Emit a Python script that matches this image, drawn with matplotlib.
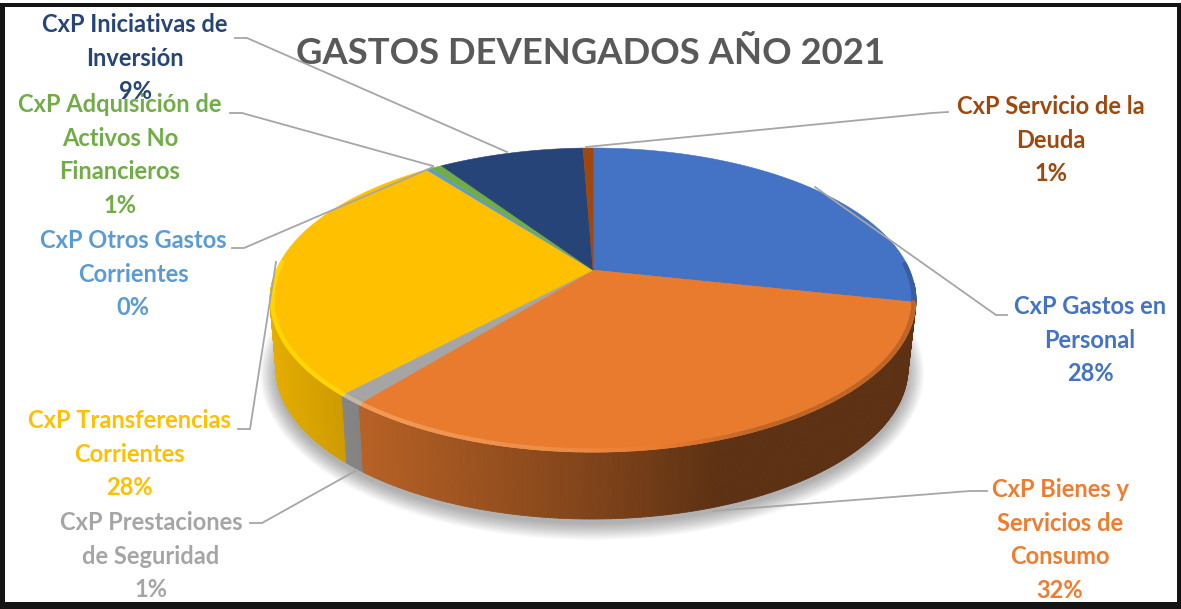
import numpy as np
import matplotlib
matplotlib.use("Agg")
import matplotlib.pyplot as plt
from matplotlib.collections import PolyCollection, LineCollection
from matplotlib.colors import to_rgb
from matplotlib.patches import Ellipse, Polygon, Rectangle

plt.rcParams["font.family"] = ["Lato", "DejaVu Sans"]

# clockwise from 12 o'clock
categories = ["CxP Gastos en\nPersonal", "CxP Bienes y\nServicios de\nConsumo",
              "CxP Prestaciones\nde Seguridad", "CxP Transferencias\nCorrientes",
              "CxP Otros Gastos\nCorrientes", "CxP Adquisición de\nActivos No\nFinancieros",
              "CxP Iniciativas de\nInversión", "CxP Servicio de la\nDeuda"]
percent_labels = ["28%", "32%", "1%", "28%", "0%", "1%", "9%", "1%"]
values = [28.4, 32.4, 1.1, 27.7, 0.3, 0.7, 8.8, 0.6]
slice_colors = ["#4472C4", "#E97B2F", "#A5A5A5", "#FFC000", "#5B9BD5", "#70AD47", "#264478", "#9E480E"]
text_colors = ["#4472C4", "#ED7D31", "#A5A5A5", "#FFC000", "#5B9BD5", "#70AD47", "#264478", "#9E480E"]
label_pos = [(1090, 340), (1060, 540), (151, 556), (129, 454), (133, 274), (120, 155), (135, 58), (1051, 140)]
leaders = [[(1007, 315), (996, 315), (815, 187)],
           [(987, 491), (970, 491), (713, 511)],
           [(250, 523), (262, 523), (357, 470)],
           [(238, 429), (250, 429), (276, 262)],
           [(232, 248), (244, 248), (433, 167)],
           [(230, 113), (242, 113), (433, 166)],
           [(235, 38), (247, 38), (507, 152)],
           [(948, 112), (932, 113), (586, 147)]]
title = "GASTOS DEVENGADOS AÑO 2021"

W, H = 1181, 609
CX, CY, RX, RY = 593, 300, 323, 152
BX, BY, BRX, BRY = 592, 368, 316, 151
PERSP = 0.197


def project(theta, r=1.0, cx=CX, cy=CY, rx=RX, ry=RY):
    u, v = r * np.sin(theta), r * np.cos(theta)
    w = 1 + PERSP * v
    return cx + rx * u * np.sqrt(1 - PERSP**2) / w, cy - ry * (v + PERSP) / w


def shade(x):
    return np.interp(x, [270, 350, 640, 720, 920], [0.9, 0.8, 0.5, 0.4, 0.4])


fig = plt.figure(figsize=(W / 100, H / 100), dpi=100)
ax = fig.add_axes([0, 0, 1, 1])
ax.set_xlim(0, W)
ax.set_ylim(H, 0)
ax.axis("off")

# soft shadow
for grow in np.linspace(16, 0, 14):
    ax.add_patch(Ellipse((BX, BY + 5), 2 * (BRX + grow), 2 * (BRY + grow), fc="#000000", ec="none", alpha=0.022, zorder=1))

edges = np.cumsum([0] + values) / sum(values) * 2 * np.pi

# sides
for start, end, col in zip(edges[:-1], edges[1:], slice_colors):
    th = np.linspace(start, end, max(3, int((end - start) * 90)))
    xt, yt = project(th)
    xb, yb = project(th, cx=BX, cy=BY, rx=BRX, ry=BRY)
    quads, cols = [], []
    for i in range(len(th) - 1):
        if np.cos(th[i]) > -0.08:
            continue
        quads.append([(xt[i], yt[i]), (xt[i + 1], yt[i + 1]), (xb[i + 1], yb[i + 1]), (xb[i], yb[i])])
        cols.append(np.array(to_rgb(col)) * shade(xt[i]))
    ax.add_collection(PolyCollection(quads, facecolors=cols, edgecolors=cols, linewidths=0.6, zorder=2))

# top faces
for start, end, col in zip(edges[:-1], edges[1:], slice_colors):
    th = np.linspace(start, end, max(3, int((end - start) * 90)))
    xt, yt = project(th)
    ax0, ay0 = project(0.0, r=0.0)
    pts = np.vstack([[ax0, ay0], np.column_stack([xt, yt])])
    ax.add_patch(Polygon(pts, closed=True, fc=col, ec=col, lw=0.4, zorder=3))

    # bevel along the front rim
    xr, yr = project(th, r=0.993)
    segs, seg_cols = [], []
    base = np.array(to_rgb(col))
    for i in range(len(th) - 1):
        if np.cos(th[i]) > 0.05:
            continue
        x = xr[i]
        if x < 660:
            amt = np.interp(x, [270, 420, 560, 660], [0.4, 0.3, 0.18, 0.0])
            c = base + (np.array([1, 0.85, 0.65]) - base) * amt
            if col == "#FFC000":
                c = np.array(to_rgb("#FFD600"))
        else:
            c = base * np.interp(x, [660, 760], [1.0, 0.82])
        segs.append([(xr[i], yr[i]), (xr[i + 1], yr[i + 1])])
        seg_cols.append(c)
    if segs:
        ax.add_collection(LineCollection(segs, colors=seg_cols, linewidths=3, zorder=4, capstyle="round"))

# leader lines
for pts in leaders:
    xs, ys = zip(*pts)
    ax.plot(xs, ys, color="#A6A6A6", lw=1.3, zorder=5, solid_joinstyle="miter")

# labels
for cat, pct, pos, col in zip(categories, percent_labels, label_pos, text_colors):
    ax.text(pos[0], pos[1], cat + "\n" + pct, color=col, fontsize=17, fontweight="bold",
            ha="center", va="center", linespacing=1.57, zorder=6)

ax.text(591, 54, title, color="#595959", fontsize=26.3, fontweight="bold", ha="center", va="center", zorder=6)

# outer frame
frame = "#141414"
ax.add_patch(Rectangle((0, 3), W, 4, fc=frame, ec="none", zorder=7))
ax.add_patch(Rectangle((0, 602), W, 7, fc=frame, ec="none", zorder=7))
ax.add_patch(Rectangle((0, 3), 5, H, fc=frame, ec="none", zorder=7))
ax.add_patch(Rectangle((W - 4, 3), 4, H, fc=frame, ec="none", zorder=7))

fig.savefig("out.png", dpi=100)
